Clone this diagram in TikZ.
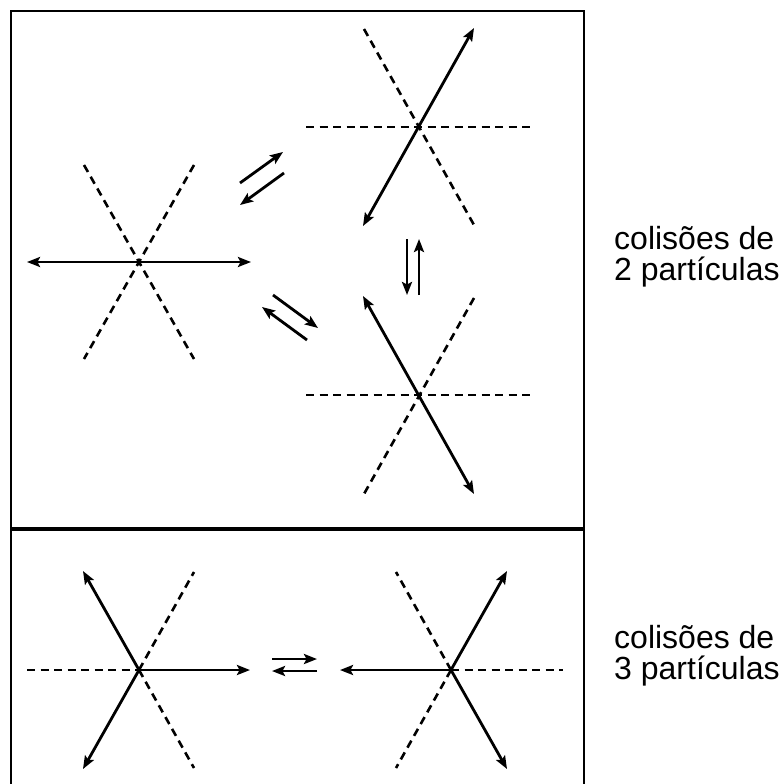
\documentclass[tikz,border=0pt]{standalone}
\usepackage{fontspec}
\setmainfont{Liberation Sans}
\usetikzlibrary{arrows.meta}
\begin{document}
\begin{tikzpicture}[x=1pt,y=-1pt,
  arr/.style={line width=2.8pt,-{Stealth[length=13pt,width=10pt,inset=2.5pt]}},
  darr/.style={line width=2.8pt,{Stealth[length=13pt,width=10pt,inset=2.5pt]}-{Stealth[length=13pt,width=10pt,inset=2.5pt]}},
  dsh/.style={line width=2.6pt,dash pattern=on 8pt off 5.5pt},
  frame/.style={line width=1.5pt},
  lbl/.style={font=\fontsize{32}{31}\selectfont,align=left,anchor=west,inner sep=0pt}]
\useasboundingbox (0,0) rectangle (782,784);
\begin{scope}
\clip (0,0) rectangle (782,784);
% frame
\coordinate (f1) at (11,11);
\coordinate (f2) at (584,11);
\coordinate (f3) at (11,800);
\coordinate (f4) at (584,800);
\draw[frame] (f3) -- (f1) -- (f2) -- (f4);
\coordinate (d1) at (11,529);
\coordinate (d2) at (584,529);
\draw[line width=3.2pt] (d1) -- (d2);
\end{scope}
% star 1
\coordinate (c1) at (139,262);
\coordinate (a1l) at (27,262);
\coordinate (a1r) at (251,262);
\coordinate (a1ul) at (84,165);
\coordinate (a1ur) at (194,165);
\coordinate (a1ll) at (84,359);
\coordinate (a1lr) at (194,359);
\draw[darr] (a1l) -- (a1r);
\draw[dsh] (a1ul) -- (a1lr);
\draw[dsh] (a1ur) -- (a1ll);
% star 2
\coordinate (c2) at (419,127);
\coordinate (b2l) at (306,127);
\coordinate (b2r) at (532,127);
\coordinate (b2ul) at (364,29);
\coordinate (b2lr) at (474,225);
\coordinate (b2ll) at (363,226);
\coordinate (b2ur) at (474,28);
\draw[dsh] (b2l) -- (b2r);
\draw[dsh] (b2ul) -- (b2lr);
\draw[darr] (b2ll) -- (b2ur);
% star 3
\coordinate (c3) at (419,395);
\coordinate (b3l) at (306,395);
\coordinate (b3r) at (532,395);
\coordinate (b3ur) at (474,298);
\coordinate (b3ll) at (364,494);
\coordinate (b3ul) at (363,296);
\coordinate (b3lr) at (474,494);
\draw[dsh] (b3l) -- (b3r);
\draw[dsh] (b3ur) -- (b3ll);
\draw[darr] (b3ul) -- (b3lr);
% equilibrium arrows
\coordinate (e1a) at (240,183);
\coordinate (e1b) at (283,152);
\coordinate (e2a) at (284,173);
\coordinate (e2b) at (240,205);
\draw[arr] (e1a) -- (e1b);
\draw[arr] (e2a) -- (e2b);
\coordinate (e3a) at (273,295);
\coordinate (e3b) at (318,328);
\coordinate (e4a) at (307,340);
\coordinate (e4b) at (262,307);
\draw[arr] (e3a) -- (e3b);
\draw[arr] (e4a) -- (e4b);
\coordinate (e5a) at (407,239);
\coordinate (e5b) at (407,295);
\coordinate (e6a) at (419,295);
\coordinate (e6b) at (419,239);
\draw[arr] (e5a) -- (e5b);
\draw[arr] (e6a) -- (e6b);
% bottom star 4
\coordinate (c4) at (139,670);
\coordinate (g4ul) at (83,571);
\coordinate (g4ll) at (83,769);
\coordinate (g4r) at (250,670);
\coordinate (g4l) at (27,670);
\coordinate (g4ur) at (194,572);
\coordinate (g4lr) at (194,768);
\draw[arr] (c4) -- (g4ul);
\draw[arr] (c4) -- (g4ll);
\draw[arr] (c4) -- (g4r);
\draw[dsh] (g4l) -- (c4);
\draw[dsh] (c4) -- (g4ur);
\draw[dsh] (c4) -- (g4lr);
% bottom star 5
\coordinate (c5) at (451,670);
\coordinate (g5l) at (340,670);
\coordinate (g5ur) at (507,571);
\coordinate (g5lr) at (507,769);
\coordinate (g5r) at (563,670);
\coordinate (g5ul) at (396,572);
\coordinate (g5ll) at (396,768);
\draw[arr] (c5) -- (g5l);
\draw[arr] (c5) -- (g5ur);
\draw[arr] (c5) -- (g5lr);
\draw[dsh] (c5) -- (g5r);
\draw[dsh] (c5) -- (g5ul);
\draw[dsh] (c5) -- (g5ll);
% bottom equilibrium
\coordinate (h1a) at (272,659);
\coordinate (h1b) at (317,659);
\coordinate (h2a) at (317,671);
\coordinate (h2b) at (272,671);
\draw[arr] (h1a) -- (h1b);
\draw[arr] (h2a) -- (h2b);
% labels
\node[lbl] (t1) at (614,257) {colisões de\\2 partículas};
\node[lbl] (t2) at (614,656) {colisões de\\3 partículas};
\end{tikzpicture}
\end{document}
